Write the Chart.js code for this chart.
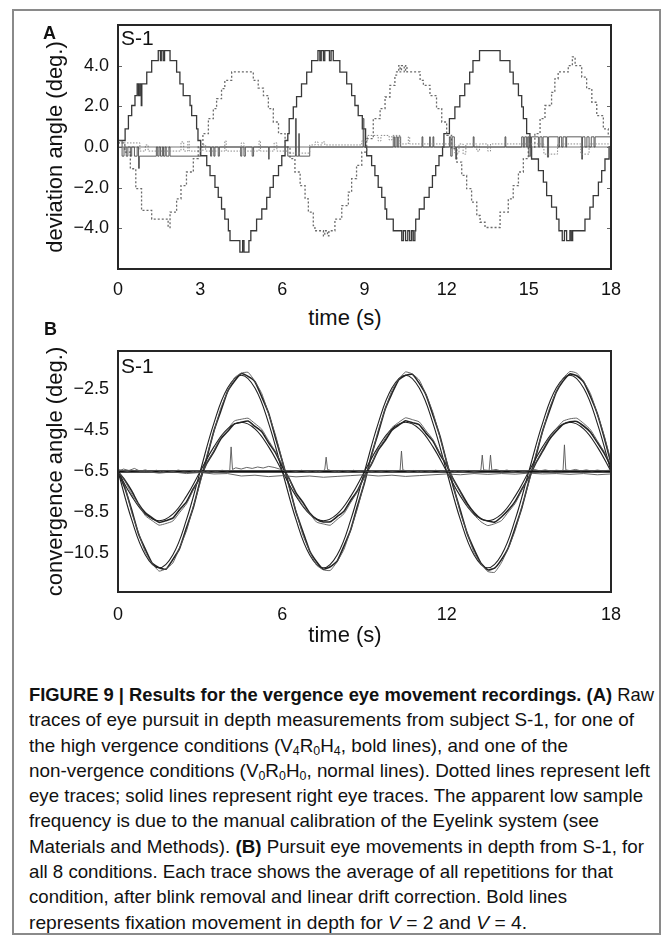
<!DOCTYPE html>
<html>
<head>
<meta charset="utf-8">
<script src="https://cdn.jsdelivr.net/npm/chart.js@4.4.1/dist/chart.umd.min.js"></script>
<style>
  html, body { margin: 0; padding: 0; background: #fff; }
  body { width: 671px; height: 943px; position: relative; overflow: hidden;
         font-family: "Liberation Sans", Arial, sans-serif; color: #111; }
  #frame { position: absolute; left: 12px; top: 9px; width: 645px; height: 922px; border: 2px solid #8a8a8a; }
  canvas { position: absolute; left: 0; }
  #chartA { top: 0; }
  #chartB { top: 330px; }
  .lbl { position: absolute; white-space: nowrap; line-height: 1; }
  .panel { font-weight: bold; font-size: 18px; }
  .s1 { font-size: 21px; }
  .xt { font-size: 22px; transform: translateX(-50%); }
  #caption { position: absolute; left: 29px; top: 682px;
             font-size: 19px; line-height: 25.3px; white-space: nowrap; }
  #caption .cl { display: inline-block; transform-origin: 0 50%; }
  #caption sub { font-size: 12.5px; vertical-align: -3px; line-height: 0; }
</style>
</head>
<body>
<div id="frame"></div>
<canvas id="chartA" width="671" height="305"></canvas>
<canvas id="chartB" width="671" height="300"></canvas>

<div class="lbl panel" style="left:43px; top:24px;">A</div>
<div class="lbl s1" style="left:121px; top:27px;">S-1</div>
<div class="lbl xt" style="left:345px; top:307px;">time (s)</div>

<div class="lbl panel" style="left:44px; top:320px;">B</div>
<div class="lbl s1" style="left:121px; top:355px;">S-1</div>
<div class="lbl xt" style="left:345px; top:624px;">time (s)</div>

<div id="caption">
  <div><span class="cl"><b>FIGURE 9 | Results for the vergence eye movement recordings. (A)</b> Raw</span></div>
  <div><span class="cl">traces of eye pursuit in depth measurements from subject S-1, for one of</span></div>
  <div><span class="cl">the high vergence conditions (V<sub>4</sub>R<sub>0</sub>H<sub>4</sub>, bold lines), and one of the</span></div>
  <div><span class="cl">non-vergence conditions (V<sub>0</sub>R<sub>0</sub>H<sub>0</sub>, normal lines). Dotted lines represent left</span></div>
  <div><span class="cl">eye traces; solid lines represent right eye traces. The apparent low sample</span></div>
  <div><span class="cl">frequency is due to the manual calibration of the Eyelink system (see</span></div>
  <div><span class="cl">Materials and Methods). <b>(B)</b> Pursuit eye movements in depth from S-1, for</span></div>
  <div><span class="cl">all 8 conditions. Each trace shows the average of all repetitions for that</span></div>
  <div><span class="cl">condition, after blink removal and linear drift correction. Bold lines</span></div>
  <div><span class="cl">represents fixation movement in depth for <i>V</i> = 2 and <i>V</i> = 4.</span></div>
</div>

<script>
// ---- panel A: deviation angle, step traces as [time (s), deg] ----
const xTicksA = [0, 3, 6, 9, 12, 15, 18];
const yTicksA = [-4, -2, 0, 2, 4];

// V4R0H4 right eye (bold solid)
const rightBold = [
  [0,0.32],[0.26,0.89],[0.38,1.54],[0.5,2.04],[0.62,2.53],[0.7,3.1],[0.75,2.53],[0.8,3.1],[0.85,2.04],[0.87,3.1],
  [1.05,3.68],[1.23,4.25],[1.47,4.74],[1.55,4.25],[1.58,4.74],[1.65,4.25],[1.7,4.74],[1.9,4.25],[2.14,3.68],[2.26,3.1],
  [2.38,2.53],[2.63,2.04],[2.69,1.54],[2.87,0.89],[2.92,0.32],[3.02,-0.43],[3.24,-0.92],[3.36,-1.41],[3.54,-1.99],[3.66,-2.48],
  [3.78,-3.05],[3.9,-3.55],[4.03,-4.12],[4.09,-4.6],[4.45,-5.17],[4.55,-4.6],[4.6,-5.17],[4.78,-4.6],[4.85,-4.12],[5.06,-3.55],
  [5.25,-3.05],[5.43,-2.48],[5.55,-1.99],[5.67,-1.41],[5.86,-0.92],[5.98,-0.43],[6.1,0.32],
  [6.2,0.66],[6.25,1.4],[6.4,1.97],[6.52,2.48],[6.7,3.1],[6.89,3.68],[7.07,4.25],[7.3,4.74],[7.37,4.25],[7.42,4.74],
  [7.5,4.25],[7.55,4.74],[7.72,4.25],[7.78,4.74],[7.86,4.25],[8.1,3.68],[8.35,3.1],[8.53,2.53],[8.65,2.04],[8.77,1.54],
  [8.92,0.89],[9.04,0.0],[9.08,-0.43],[9.26,-0.92],[9.38,-1.41],[9.5,-1.99],[9.63,-2.48],[9.75,-3.05],[9.81,-3.55],[10.05,-4.12],
  [10.36,-4.6],[10.42,-4.12],[10.5,-4.6],[10.58,-4.12],[10.65,-4.6],[10.72,-4.12],[10.78,-4.6],[10.84,-4.12],[10.87,-3.55],[11.0,-3.05],
  [11.18,-2.48],[11.36,-1.99],[11.48,-1.41],[11.6,-0.92],[11.72,-0.43],[11.85,0.0],[11.9,0.66],[12.1,1.4],[12.3,1.97],[12.48,2.53],
  [12.66,3.1],[12.84,3.68],[12.96,4.25],[13.2,4.74],[13.95,4.25],[14.31,3.68],[14.43,3.1],[14.62,2.53],[14.74,1.97],[14.8,1.4],
  [14.92,0.66],[15.04,0.0],[15.1,-0.59],[15.35,-1.16],[15.53,-1.73],[15.65,-2.39],[15.83,-2.96],[16.01,-3.55],[16.1,-4.12],[16.22,-4.6],
  [16.3,-4.12],[16.38,-4.6],[16.5,-4.12],[16.55,-4.6],[16.6,-4.12],[17.05,-3.55],[17.23,-2.96],[17.35,-2.39],[17.54,-1.73],[17.66,-1.16],
  [17.78,-0.59],[17.93,0.0],[18,0.0]
];

// V4R0H4 left eye (bold dotted)
const leftBold = [
  [0,0.2],[0.25,-0.25],[0.45,-1.07],[0.65,-2.05],[0.86,-3.12],[1.23,-3.55],[1.83,-3.96],[1.9,-3.2],[2.14,-2.55],[2.3,-1.9],
  [2.5,-1.23],[2.75,-0.57],[2.93,0.0],[3.1,0.66],[3.3,1.4],[3.48,1.89],[3.6,2.38],[3.78,2.87],[3.9,3.28],[4.15,3.69],
  [4.94,3.28],[5.12,2.9],[5.31,2.53],[5.49,1.89],[5.67,1.23],[5.86,0.66],[6.1,0.0],[6.28,-0.57],[6.46,-1.23],[6.65,-1.9],
  [6.83,-2.55],[6.95,-3.2],[7.13,-3.87],[7.19,-4.12],[7.5,-4.37],[7.55,-4.12],[7.65,-4.37],[7.7,-4.12],[7.92,-3.55],[8.17,-2.88],
  [8.41,-2.22],[8.53,-1.56],[8.71,-0.9],[8.9,-0.25],[9.08,0.41],[9.32,1.4],[9.57,1.89],[9.75,2.46],[9.93,3.03],[10.11,3.53],
  [10.17,3.69],[10.25,4.0],[10.3,3.69],[10.35,4.0],[10.45,3.69],[10.5,4.0],[10.55,3.69],[11.03,3.28],[11.15,3.03],[11.39,2.53],
  [11.63,1.89],[11.82,1.23],[12.0,0.57],[12.18,-0.08],[12.37,-0.74],[12.55,-1.4],[12.73,-2.05],[12.91,-2.71],[13.1,-3.37],[13.22,-3.7],
  [13.4,-3.96],[13.95,-3.2],[14.25,-2.55],[14.43,-1.9],[14.62,-1.23],[14.8,-0.57],[14.98,0.0],[15.22,0.66],[15.41,1.4],[15.59,2.04],
  [15.83,2.69],[15.95,3.35],[16.07,3.69],[16.44,4.0],[16.59,4.43],[16.69,4.0],[16.93,3.44],[17.11,2.87],[17.3,2.2],[17.48,1.54],
  [17.72,0.89],[17.9,0.6],[18,0.6]
];

// V0R0H0 right eye (normal solid)
const rightNormal = [
  [0,0.32],[0.15,-0.45],[0.22,0],[0.3,-0.45],[0.36,0],[0.45,-0.45],[0.5,0],[0.6,-0.45],[0.7,0],[0.75,-1.05],
  [0.78,-0.45],[1.4,0],[1.45,-0.45],[1.5,0],[1.55,-0.45],[1.62,0],[1.66,-0.45],[1.72,0],[1.76,-0.45],[1.86,0],
  [1.9,-0.45],[3.0,0],[3.38,-0.45],[3.42,0],[3.5,-0.45],[3.54,0],[3.66,-0.45],[3.7,0],[4.48,-0.45],[4.52,0],
  [4.6,-0.45],[4.65,0],[4.9,-0.45],[4.95,0],[5.5,-0.6],[5.52,0],[6.2,-0.45],[6.48,1.4],[6.51,-0.45],[6.6,0.66],
  [6.62,-0.45],[7.0,0],[8.95,1.4],[8.98,0],[10.05,0.5],[10.1,0],[10.15,0.5],[10.2,0],[10.25,0.5],[10.32,0],
  [11.1,0.5],[11.13,0],[11.38,0.5],[11.4,0],[11.5,0.5],[11.53,0],[12.1,0.5],[12.15,-0.45],[12.2,0.5],[12.28,0],
  [12.33,-0.6],[12.36,0],[12.97,0.5],[13.0,0],[14.13,0.5],[14.16,0],[14.74,0.5],[14.8,0],[14.85,0.5],[14.92,0],
  [14.96,0.5],[15.0,-0.45],[15.05,0.5],[15.08,-0.5],[15.1,0.5],[15.35,0],[15.4,0.5],[15.48,0],[15.52,0.5],[15.68,-0.5],
  [15.72,0.5],[16.07,0],[16.12,0.5],[16.2,0],[16.25,0.5],[16.35,0],[16.38,0.5],[16.93,-0.6],[16.96,0.5],[17.05,0],
  [17.12,0.5],[17.2,0],[17.28,0.5],[17.38,0],[17.42,0.5],[18,0.5]
];

// V0R0H0 left eye (normal dotted)
const leftNormal = [
  [0,0.2],[0.8,-0.2],[1.0,0.1],[1.1,-0.2],[2.3,0.25],[2.4,-0.2],[2.55,0.3],[2.6,-0.2],[3.1,0.1],[3.2,-0.2],
  [3.9,0.3],[3.95,-0.2],[4.5,0.2],[4.6,-0.2],[5.15,0.3],[5.2,-0.2],[5.7,0.2],[5.8,-0.2],[6.2,-0.3],[7.0,0.1],
  [7.2,0.25],[7.3,0.1],[7.45,0.25],[7.55,0.1],[8.9,0.3],[9.1,0.57],[9.5,0.3],[9.6,0.57],[9.9,0.35],[10.0,0.57],
  [10.3,0.15],[10.6,0.5],[10.65,0.15],[12.3,-0.3],[12.45,0.15],[12.6,-0.35],[12.7,0.15],[13.1,-0.2],[13.2,0.15],[13.5,-0.2],
  [13.6,0.15],[15.55,-0.35],[16.05,0.15],[16.9,-0.35],[17.2,0.15],[18,0.15]
];

const zeroRef = [[0, 0], [18, 0]];

// ---- panel B: convergence angle ----
const xTicksB = [0, 6, 12, 18];
const yTicksB = [-2.5, -4.5, -6.5, -8.5, -10.5];

const halfT = [0,0.5,1,1.5,2,2.5,3,3.5,4,4.5,5,5.5,6,6.5,7,7.5,8,8.5,9,9.5,10,10.5,11,11.5,12,12.5,13,13.5,14,14.5,15,15.5,16,16.5,17,17.5,18];
const quarterT = [0,0.25,0.5,0.75,1,1.25,1.5,1.75,2,2.25,2.5,2.75,3,3.25,3.5,3.75,4,4.25,4.5,4.75,5,5.25,5.5,5.75,
  6,6.25,6.5,6.75,7,7.25,7.5,7.75,8,8.25,8.5,8.75,9,9.25,9.5,9.75,10,10.25,10.5,10.75,11,11.25,11.5,11.75,
  12,12.25,12.5,12.75,13,13.25,13.5,13.75,14,14.25,14.5,14.75,15,15.25,15.5,15.75,16,16.25,16.5,16.75,17,17.25,17.5,17.75,18];

// target movement V = 4 and V = 2 (smooth)
const bigTarget = [-6.5,-8.85,-10.57,-11.2,-10.57,-8.85,-6.5,-4.15,-2.43,-1.8,-2.43,-4.15,
  -6.5,-8.85,-10.57,-11.2,-10.57,-8.85,-6.5,-4.15,-2.43,-1.8,-2.43,-4.15,
  -6.5,-8.85,-10.57,-11.2,-10.57,-8.85,-6.5,-4.15,-2.43,-1.8,-2.43,-4.15,-6.5];
const smallTarget = [-6.5,-7.7,-8.58,-8.9,-8.58,-7.7,-6.5,-5.3,-4.42,-4.1,-4.42,-5.3,
  -6.5,-7.7,-8.58,-8.9,-8.58,-7.7,-6.5,-5.3,-4.42,-4.1,-4.42,-5.3,
  -6.5,-7.7,-8.58,-8.9,-8.58,-7.7,-6.5,-5.3,-4.42,-4.1,-4.42,-5.3,-6.5];

// eye traces (averaged), sampled every 0.25 s
const bigEye1 = [-6.5,-7.3,-8.38,-9.55,-10.3,-10.98,-11.2,-11.27,-10.8,-10.25,-9.25,-8.26,-6.95,-5.8,-4.52,-3.56,-2.6,-2.1,-1.72,-1.86,-2.12,-2.86,-3.66,-4.85,
  -6.0,-7.2,-8.48,-9.44,-10.38,-10.9,-11.27,-11.15,-10.88,-10.14,-9.33,-8.15,-7.05,-5.72,-4.62,-3.47,-2.7,-2.02,-1.8,-1.76,-2.2,-2.77,-3.75,-4.76,
  -6.04,-7.28,-8.4,-9.52,-10.3,-10.97,-11.3,-11.22,-10.8,-10.22,-9.26,-8.24,-6.97,-5.79,-4.54,-3.55,-2.63,-2.09,-1.74,-1.83,-2.13,-2.84,-3.68,-4.83,-6.1];
const bigEye2 = [-6.5,-7.2,-8.5,-9.5,-10.45,-11.0,-11.36,-11.25,-10.97,-10.22,-9.4,-8.2,-7.05,-5.7,-4.57,-3.42,-2.62,-1.93,-1.7,-1.66,-2.1,-2.7,-3.69,-4.72,
  -5.98,-7.3,-8.44,-9.6,-10.4,-11.07,-11.3,-11.33,-10.9,-10.3,-9.32,-8.28,-6.98,-5.78,-4.5,-3.48,-2.55,-2.0,-1.64,-1.74,-2.04,-2.76,-3.62,-4.8,
  -6.02,-7.22,-8.52,-9.5,-10.46,-11.0,-11.38,-11.42,-10.95,-10.24,-9.38,-8.2,-7.04,-5.7,-4.56,-3.43,-2.6,-1.95,-1.62,-1.7,-2.1,-2.7,-3.68,-4.74,-6.0];
const smallEye1 = [-6.5,-6.92,-7.45,-8.08,-8.52,-8.76,-8.98,-8.9,-8.78,-8.36,-7.98,-7.34,-6.8,-6.08,-5.54,-4.92,-4.55,-4.18,-4.1,-4.04,-4.3,-4.56,-5.1,-5.58,
  -6.26,-6.85,-7.54,-8.0,-8.52,-8.83,-8.96,-8.95,-8.7,-8.44,-7.9,-7.42,-6.72,-6.15,-5.46,-5.0,-4.48,-4.24,-4.02,-4.12,-4.22,-4.64,-5.02,-5.66,
  -6.2,-6.9,-7.48,-8.06,-8.5,-8.8,-8.92,-8.97,-8.72,-8.38,-7.96,-7.35,-6.78,-6.1,-5.52,-4.94,-4.54,-4.2,-4.08,-4.06,-4.28,-4.58,-5.08,-5.6,-6.25];
const smallEye2 = [-6.5,-6.95,-7.6,-8.1,-8.66,-8.9,-9.12,-9.04,-8.92,-8.5,-8.08,-7.4,-6.82,-6.06,-5.48,-4.83,-4.44,-4.03,-3.95,-3.9,-4.16,-4.44,-5.0,-5.53,
  -6.18,-6.86,-7.62,-8.16,-8.56,-8.97,-9.06,-9.12,-8.84,-8.56,-8.0,-7.47,-6.74,-6.14,-5.4,-4.9,-4.36,-4.1,-3.88,-3.97,-4.08,-4.52,-4.94,-5.6,
  -6.16,-6.92,-7.53,-8.18,-8.62,-8.95,-9.14,-9.05,-8.9,-8.48,-8.06,-7.4,-6.8,-6.07,-5.46,-4.85,-4.42,-4.04,-3.93,-3.9,-4.15,-4.46,-5.0,-5.54,-6.15];

// no vergence (V = 0): target line and two eye traces [time, deg]
const flatTarget = [[0, -6.5], [18, -6.5]];
const flatEye1 = [
  [0,-6.5],[0.2,-6.38],[0.4,-6.45],[0.6,-6.35],[0.8,-6.48],[1.0,-6.42],[1.2,-6.5],[1.4,-6.44],[1.6,-6.52],[1.8,-6.45],
  [2.0,-6.5],[2.2,-6.43],[2.4,-6.49],[2.6,-6.45],[2.8,-6.52],[3.0,-6.47],[3.2,-6.53],[3.4,-6.46],[3.6,-6.5],[3.8,-6.44],
  [4.0,-6.48],[4.08,-6.45],[4.13,-5.3],[4.18,-6.4],[4.3,-6.32],[4.5,-6.38],[4.7,-6.3],[4.9,-6.35],[5.1,-6.28],[5.3,-6.33],
  [5.5,-6.25],[5.7,-6.3],[5.9,-6.38],[6.1,-6.48],[6.3,-6.45],[6.5,-6.5],[6.7,-6.44],[6.9,-6.5],[7.1,-6.46],[7.3,-6.52],
  [7.5,-6.45],[7.55,-6.4],[7.6,-5.8],[7.65,-6.4],[7.8,-6.47],[8.0,-6.52],[8.2,-6.45],[8.4,-6.5],[8.6,-6.44],[8.8,-6.5],
  [9.0,-6.47],[9.2,-6.52],[9.4,-6.46],[9.6,-6.5],[9.8,-6.45],[10.0,-6.5],[10.2,-6.46],[10.3,-6.44],[10.35,-5.5],[10.4,-6.42],
  [10.6,-6.5],[10.8,-6.45],[11.0,-6.52],[11.2,-6.46],[11.4,-6.5],[11.6,-6.44],[11.8,-6.5],[12.0,-6.47],[12.2,-6.53],[12.4,-6.47],
  [12.6,-6.5],[12.8,-6.45],[13.0,-6.5],[13.2,-6.46],[13.25,-6.42],[13.3,-5.7],[13.35,-6.42],[13.55,-6.45],[13.6,-5.7],[13.65,-6.44],
  [13.8,-6.4],[14.0,-6.48],[14.2,-6.43],[14.4,-6.5],[14.6,-6.45],[14.8,-6.5],[15.0,-6.46],[15.2,-6.4],[15.4,-6.47],[15.6,-6.42],
  [15.8,-6.48],[16.0,-6.44],[16.2,-6.46],[16.25,-6.42],[16.3,-5.2],[16.35,-6.42],[16.5,-6.46],[16.7,-6.4],[16.9,-6.47],[17.1,-6.42],
  [17.3,-6.48],[17.5,-6.43],[17.7,-6.47],[17.9,-6.44],[18.0,-6.46]
];
const flatEye2 = [
  [0,-6.4],[0.5,-6.55],[1.0,-6.5],[1.5,-6.58],[2.0,-6.52],[2.5,-6.6],[3.0,-6.55],[3.5,-6.62],[4.0,-6.6],[4.5,-6.72],
  [5.0,-6.68],[5.5,-6.75],[6.0,-6.7],[6.5,-6.76],[7.0,-6.72],[7.5,-6.78],[8.0,-6.74],[8.5,-6.7],[9.0,-6.66],[9.5,-6.72],
  [10.0,-6.68],[10.5,-6.74],[11.0,-6.7],[11.5,-6.66],[12.0,-6.62],[12.5,-6.66],[13.0,-6.6],[13.5,-6.64],[14.0,-6.6],[14.5,-6.63],
  [15.0,-6.58],[15.5,-6.62],[16.0,-6.6],[16.5,-6.64],[17.0,-6.6],[17.5,-6.66],[18.0,-6.62]
];

// helpers
const fromPairs = arr => arr.map(p => ({ x: p[0], y: p[1] }));
const zip = (ts, vs) => ts.map((t, i) => ({ x: t, y: vs[i] }));
const fmt = v => v.toFixed(1).replace('-', '\u2212');

Chart.defaults.font.family = "'Liberation Sans', Arial, sans-serif";
Chart.defaults.color = '#111';

// plot box + small inner ticks
const boxFrame = {
  id: 'boxFrame',
  afterDatasetsDraw(chart, args, opts) {
    const { ctx, chartArea: a, scales } = chart;
    ctx.save();
    if (opts.innerTicks) {
      ctx.lineWidth = 1;
      ctx.strokeStyle = '#666';
      scales.y.ticks.forEach(t => {
        const y = Math.round(scales.y.getPixelForValue(t.value)) + 0.5;
        ctx.beginPath();
        ctx.moveTo(a.left, y); ctx.lineTo(a.left + 4, y);
        ctx.moveTo(a.right - 4, y); ctx.lineTo(a.right, y);
        ctx.stroke();
      });
    }
    ctx.strokeStyle = '#262626';
    ctx.lineWidth = 2;
    ctx.strokeRect(a.left, a.top, a.right - a.left, a.bottom - a.top);
    ctx.restore();
  }
};

function axes(xTicks, yTicks, yMin, yMax, yTitle, xPad, canvasH, bottom) {
  return {
    x: {
      type: 'linear', min: 0, max: 18,
      afterBuildTicks: s => { s.ticks = xTicks.map(v => ({ value: v })); },
      grid: { display: false, drawTicks: false },
      border: { display: false },
      ticks: { autoSkip: false, maxRotation: 0, padding: xPad, font: { size: 18 }, color: '#111' },
      afterFit: s => { s.height = canvasH - bottom; }
    },
    y: {
      type: 'linear', min: yMin, max: yMax,
      afterBuildTicks: s => { s.ticks = yTicks.map(v => ({ value: v })); },
      grid: { display: false, drawTicks: false },
      border: { display: false },
      ticks: { autoSkip: false, padding: 9, font: { size: 18 }, color: '#111', callback: v => fmt(v) },
      title: { display: true, text: yTitle, color: '#111', font: { size: 22, lineHeight: 1 }, padding: { top: 45, bottom: 0 } },
      afterFit: s => { s.width = 118; }
    }
  };
}

const commonOpts = {
  responsive: false,
  animation: false,
  events: [],
  plugins: { legend: { display: false }, tooltip: { enabled: false } },
  elements: { point: { radius: 0 } }
};

new Chart(document.getElementById('chartA'), {
  type: 'line',
  data: {
    datasets: [
      { data: fromPairs(zeroRef), borderColor: '#555', borderWidth: 0.8 },
      { data: fromPairs(leftNormal), stepped: true, borderColor: '#8a8a8a', borderWidth: 1, borderDash: [1.5, 1.5] },
      { data: fromPairs(rightNormal), stepped: true, borderColor: '#4a4a4a', borderWidth: 0.9 },
      { data: fromPairs(leftBold), stepped: true, borderColor: '#6a6a6a', borderWidth: 1.3, borderDash: [2, 2] },
      { data: fromPairs(rightBold), stepped: true, borderColor: '#383838', borderWidth: 1.3 }
    ]
  },
  options: {
    ...commonOpts,
    layout: { padding: { left: 0, top: 25, right: 60, bottom: 0 } },
    scales: axes(xTicksA, yTicksA, -6, 6, 'deviation angle (deg.)', 10, 305, 269),
    plugins: { ...commonOpts.plugins, boxFrame: { innerTicks: true } }
  },
  plugins: [boxFrame]
});

new Chart(document.getElementById('chartB'), {
  type: 'line',
  data: {
    datasets: [
      { data: fromPairs(flatEye2), borderColor: '#555', borderWidth: 0.9 },
      { data: fromPairs(flatEye1), borderColor: '#555', borderWidth: 0.9 },
      { data: fromPairs(flatTarget), borderColor: '#111', borderWidth: 2.4 },
      { data: zip(quarterT, smallEye2), borderColor: '#555', borderWidth: 0.9, tension: 0.15 },
      { data: zip(quarterT, smallEye1), borderColor: '#222', borderWidth: 1.6, tension: 0.15 },
      { data: zip(halfT, smallTarget), borderColor: '#222', borderWidth: 1.1, tension: 0.4 },
      { data: zip(quarterT, bigEye2), borderColor: '#555', borderWidth: 0.9, tension: 0.15 },
      { data: zip(quarterT, bigEye1), borderColor: '#222', borderWidth: 1.6, tension: 0.15 },
      { data: zip(halfT, bigTarget), borderColor: '#222', borderWidth: 1.1, tension: 0.4 }
    ]
  },
  options: {
    ...commonOpts,
    layout: { padding: { left: 0, top: 21, right: 60, bottom: 0 } },
    scales: axes(xTicksB, yTicksB, -12.38, -0.62, 'convergence angle (deg.)', 12, 300, 262),
    plugins: { ...commonOpts.plugins, boxFrame: { innerTicks: false } }
  },
  plugins: [boxFrame]
});

// caption: condense each line to the width it has in the figure
const capLineWidths = [625, 605, 539, 621, 614, 570, 615, 584, 538, 498];
document.querySelectorAll('#caption .cl').forEach((el, i) => {
  const w = el.getBoundingClientRect().width;
  el.style.transform = 'scaleX(' + (capLineWidths[i] / w).toFixed(4) + ')';
});
</script>
</body>
</html>
